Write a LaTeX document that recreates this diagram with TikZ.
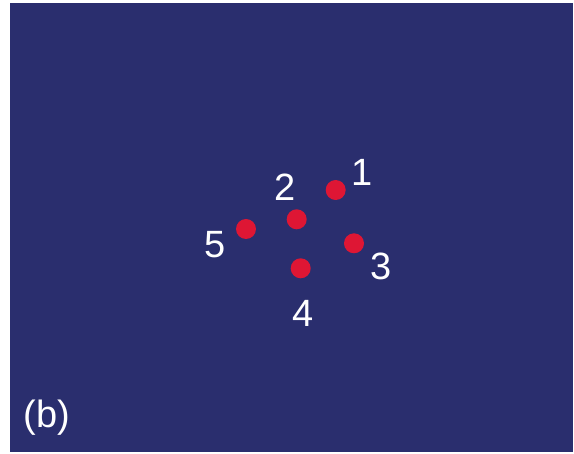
\documentclass[tikz,border=0pt]{standalone}
\usepackage{fontspec}
\setmainfont{Liberation Sans}
\definecolor{bg}{RGB}{42,46,110}
\definecolor{dotred}{RGB}{222,22,52}
\begin{document}
\begin{tikzpicture}[x=1pt,y=-1pt,
  dot/.style={circle,fill=dotred,minimum size=20pt,inner sep=0pt},
  lab/.style={text=white,font=\fontsize{38}{38}\selectfont,inner sep=0pt}]
\useasboundingbox (0,0) rectangle (574,454);
\fill[white] (0,0) rectangle (574,454);
\fill[bg] (10,3) rectangle (573,452);
\node[dot] (d1) at (335.7,190) {};
\node[dot] (d2) at (296.7,219.3) {};
\node[dot] (d3) at (354,243.3) {};
\node[dot] (d4) at (300.7,268.3) {};
\node[dot] (d5) at (246,229) {};
\node[lab] (l1) at (361.7,172.7) {1};
\node[lab] (l2) at (285,187.3) {2};
\node[lab] (l3) at (380.7,266) {3};
\node[lab] (l4) at (303.3,313.3) {4};
\node[lab] (l5) at (215,245) {5};
\node[lab] (lb) at (47,418) {(b)};
\end{tikzpicture}
\end{document}
